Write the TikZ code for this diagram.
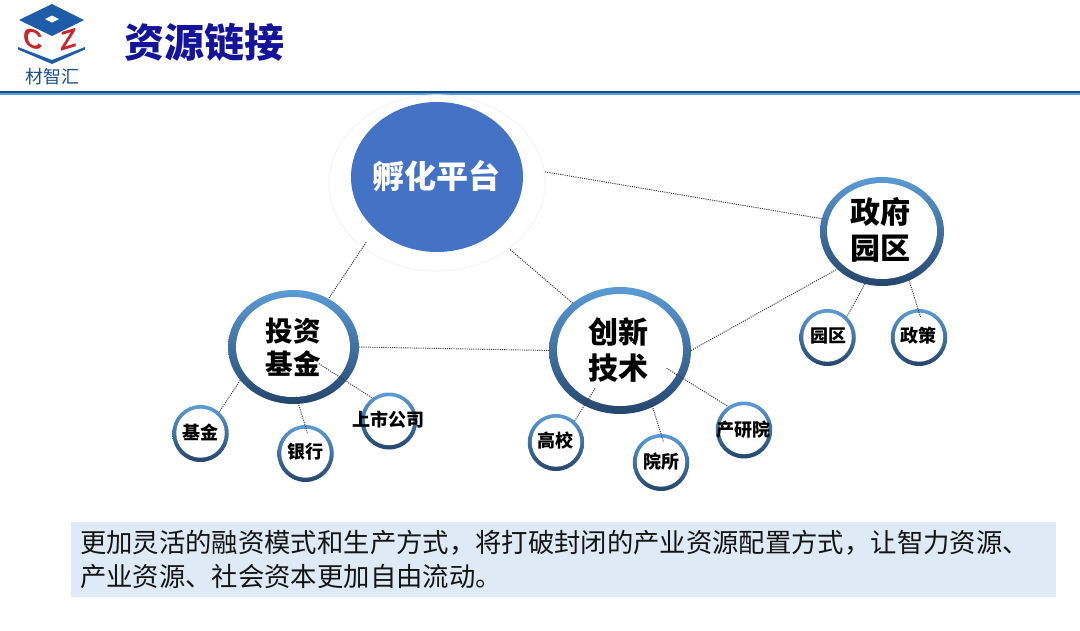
\documentclass[tikz,border=0pt]{standalone}
\usepackage{fontspec}
\usetikzlibrary{shapes.geometric}
\newfontfamily\cjk{Noto Sans CJK SC}
\definecolor{ringtop}{HTML}{5B9BD5}
\definecolor{ringmid}{HTML}{4A7FB5}
\definecolor{ringlow}{HTML}{25466C}
\definecolor{platformblue}{HTML}{4472C4}
\definecolor{titlenavy}{HTML}{14149A}
\definecolor{logoblue}{HTML}{1F5CA8}
\definecolor{logored}{HTML}{C8262C}
\definecolor{rulenavy}{HTML}{10508F}
\definecolor{rulesky}{HTML}{5B9BD5}
\definecolor{notefill}{HTML}{DEEAF6}
\tikzset{
  oval/.style={ellipse,inner sep=0pt,outer sep=0pt},
  ring/.style={oval,shade,top color=ringtop,middle color=ringmid,bottom color=ringlow},
  core/.style={oval,fill=white},
  hubtext/.style 2 args={align=center,text=black,inner sep=0pt,font=\cjk\bfseries\fontsize{#1}{#2}\selectfont},
  leaftext/.style={text=black,inner sep=0pt,font=\cjk\bfseries\fontsize{18}{20}\selectfont},
  link/.style={line width=0.95pt,black!78,dash pattern=on 1.1pt off 1.1pt},
}
\begin{document}
\begin{tikzpicture}[x=1pt,y=-1pt]
\useasboundingbox (0,0) rectangle (1080,630);
\fill[white] (0,0) rectangle (1080,630);

% Logo
\fill[logoblue] (52,4) -- (84,20) -- (52,36) -- (19,20) -- cycle;
\fill[white] (52,15.5) -- (59,19) -- (52,22.5) -- (45,19) -- cycle;
\fill[logoblue] (18,47) -- (52,60) -- (85,47) -- (85,49.5) -- (52,64) -- (18,49.5) -- cycle;
\node[text=logored,inner sep=0pt,yslant=-0.3,transform shape,font=\fontspec{Liberation Sans}\bfseries\fontsize{27}{27}\selectfont] (logoc) at (33,39.5) {C};
\node[text=logored,inner sep=0pt,yslant=0.3,transform shape,font=\fontspec{Liberation Sans}\bfseries\fontsize{27}{27}\selectfont] (logoz) at (69,39.5) {Z};
\node[text=logoblue!85!black,inner sep=0pt,font=\cjk\fontsize{18}{20}\selectfont] (logotext) at (52,77) {材智汇};

% Heading and its rule
\node[text=titlenavy,inner sep=0pt,font=\cjk\bfseries\fontsize{40}{44}\selectfont] (title) at (204,42) {资源链接};
\fill[rulesky] (0,93) rectangle (1080,94.5);
\fill[rulenavy] (0,90.5) rectangle (1080,93);

% Incubation platform
\draw[black!4,line width=1.2pt] (437,183) ellipse [x radius=108,y radius=88];
\node[oval,fill=platformblue,minimum width=172pt,minimum height=150pt] (platform) at (437,177) {};
\node[hubtext={32}{36},text=white] (platformtext) at (436,176) {孵化平台};

% Main hubs
\node[ring,minimum width=131pt,minimum height=114pt] (inv) at (293.5,347) {};
\node[core,minimum width=114pt,minimum height=100pt] (invcore) at (293,347) {};
\node[hubtext={27.5}{33}] (invtext) at (293,347) {投资\\基金};

\node[ring,minimum width=142pt,minimum height=127pt] (tech) at (620,350.5) {};
\node[core,minimum width=126pt,minimum height=112pt] (techcore) at (620,350) {};
\node[hubtext={30}{36}] (techtext) at (618,350) {创新\\技术};

\node[ring,minimum width=124pt,minimum height=109pt] (gov) at (882,231.5) {};
\node[core,minimum width=110pt,minimum height=96pt] (govcore) at (882,231) {};
\node[hubtext={30}{36}] (govtext) at (880,230) {政府\\园区};

% Leaf circles
\foreach \id/\px/\py/\tx/\ty/\lbl in {
  fund/200.5/433.5/200/432/基金,
  bank/305.5/453.5/305/452/银行,
  listed/389/421/388/420/上市公司,
  college/556/442.5/555/441/高校,
  institute/661/462.5/661/462/院所,
  lab/744/430/743/430/产研院,
  park/827.5/337.5/828/336/园区,
  policy/919/337.5/918/336/政策}{
  \node[ring,minimum width=56.5pt,minimum height=57pt] (\id) at (\px,\py) {};
  \node[core,minimum width=48.5pt,minimum height=49pt] (\id core) at (\px,\py-0.3) {};
  \node[leaftext] (\id text) at (\tx,\ty) {\lbl};
}

% Dotted links between the platform, the hubs and the leaves
\draw[link,shorten <=23pt] (platform.6.67) -- (gov.168.4);
\draw[link,shorten <=16pt] (platform.220.9) -- (inv.54.1);
\draw[link,shorten <=23.4pt] (platform.-46.2) -- (tech.135.9);
\draw[link] (inv.0) -- (tech.180);
\draw[link] (tech.0) -- (gov.220.5);
\draw[link] (inv.212) -- (fund.49.3);
\draw[link,shorten <=-7.5pt,shorten >=-8.3pt] (inv.-85.3) -- (bank.91.9);
\draw[link,shorten <=-32.3pt] (inv.-33.8) -- (listed.126.5);
\draw[link,shorten <=-20pt] (tech.237) -- (college.49.8);
\draw[link,shorten <=-1pt,shorten >=-8.3pt] (tech.-60.3) -- (institute.90.8);
\draw[link,shorten <=-20pt] (tech.-24.7) -- (lab.124.8);
\draw[link,shorten <=-4.6pt] (gov.252.7) -- (park.47.8);
\draw[link,shorten >=-8.3pt] (gov.-61.4) -- (policy.92.8);

% Closing note
\node[anchor=north west,fill=notefill,minimum width=985pt,minimum height=75pt,inner xsep=9pt,inner ysep=0pt,text width=967pt,align=left,text=black!92,font=\cjk\fontsize{26.35}{34}\selectfont] (note) at (71,522) {更加灵活的融资模式和生产方式，将打破封闭的产业资源配置方式，让智力资源、\\产业资源、社会资本更加自由流动。};
\end{tikzpicture}
\end{document}
